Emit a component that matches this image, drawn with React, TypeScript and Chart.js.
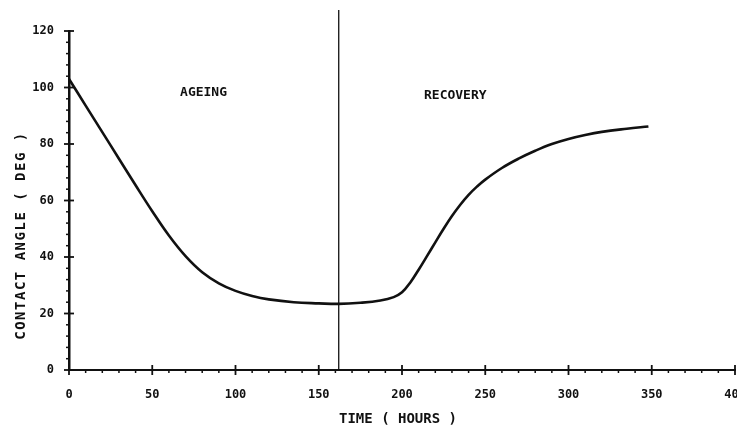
import React, { useEffect, useRef } from "react";
import { Chart, registerables } from "chart.js";

Chart.register(...registerables);

const hours = [0, 10, 20, 30, 40, 50, 60, 70, 80, 90, 100, 110, 120, 135, 150, 162, 175, 187, 195, 200, 205, 210, 215, 220, 225, 230, 235, 240, 245, 250, 260, 270, 280, 290, 300, 310, 320, 335, 348];
const angle = [103, 93.6, 84.2, 74.8, 65.4, 56.2, 47.6, 40.3, 34.6, 30.7, 28, 26.2, 25, 24, 23.6, 23.4, 23.8, 24.6, 25.8, 27.5, 31, 35.5, 40.3, 45.2, 50, 54.5, 58.5, 62, 64.9, 67.4, 71.5, 74.8, 77.6, 80, 81.8, 83.2, 84.3, 85.4, 86.2];
const xTickLabels = [0, 50, 100, 150, 200, 250, 300, 350, 400];
const yTickLabels = [0, 20, 40, 60, 80, 100, 120];
const dividerHour = 162;
const phaseLabels = ["AGEING", "RECOVERY"];
const phaseX = [80.8, 232];
const phaseY = [98.2, 97.3];
const xTitle = "TIME ( HOURS )";
const yTitle = "CONTACT ANGLE ( DEG )";

const FONT = "'DejaVu Sans Mono', monospace";
const INK = "#111";

const decorPlugin = {
  id: "decor",
  afterDraw(chart: any) {
    const { ctx, chartArea } = chart;
    const xs = chart.scales.x;
    const ys = chart.scales.y;
    const x0 = xs.getPixelForValue(0);
    const y0 = ys.getPixelForValue(0);
    ctx.save();
    ctx.strokeStyle = INK;
    // x ticks
    for (let v = 0; v <= 400; v += 10) {
      const px = xs.getPixelForValue(v);
      const major = v % 50 === 0;
      ctx.lineWidth = major ? 1.8 : 1.5;
      ctx.beginPath();
      ctx.moveTo(px, major ? y0 - 5 : y0);
      ctx.lineTo(px, major ? y0 + 5 : y0 + 3);
      ctx.stroke();
    }
    // y ticks
    for (let v = 0; v <= 120; v += 4) {
      const py = ys.getPixelForValue(v);
      const major = v % 20 === 0;
      ctx.lineWidth = major ? 1.8 : 1.5;
      ctx.beginPath();
      ctx.moveTo(major ? x0 - 5 : x0 - 3, py);
      ctx.lineTo(major ? x0 + 5 : x0 + 1, py);
      ctx.stroke();
    }
    // divider line
    const dx = xs.getPixelForValue(dividerHour);
    ctx.lineWidth = 1.3;
    ctx.beginPath();
    ctx.moveTo(dx, chartArea.top - 21);
    ctx.lineTo(dx, y0);
    ctx.stroke();
    // phase labels
    ctx.fillStyle = INK;
    ctx.font = `bold 13px ${FONT}`;
    ctx.textAlign = "center";
    ctx.textBaseline = "middle";
    phaseLabels.forEach((t, i) => {
      ctx.fillText(t, xs.getPixelForValue(phaseX[i]), ys.getPixelForValue(phaseY[i]));
    });
    // axis titles
    ctx.font = `bold 14px ${FONT}`;
    ctx.fillText(xTitle, 398, 419);
    ctx.save();
    ctx.translate(21, (chartArea.top + chartArea.bottom) / 2 + 35);
    ctx.rotate(-Math.PI / 2);
    (ctx as any).letterSpacing = "1.5px";
    ctx.fillText(yTitle, 0, 0);
    ctx.restore();
    ctx.restore();
  },
};

export default function App() {
  const ref = useRef<HTMLCanvasElement>(null);
  useEffect(() => {
    const canvas = ref.current!;
    const chart = new Chart(canvas, {
      type: "line",
      data: {
        datasets: [
          {
            data: hours.map((h, i) => ({ x: h, y: angle[i] })),
            borderColor: INK,
            borderWidth: 2.6,
            pointRadius: 0,
            tension: 0.4,
            fill: false,
          },
        ],
      },
      options: {
        animation: false,
        responsive: false,
        events: [],
        layout: { padding: { top: 31, right: 2, left: 0, bottom: 0 } },
        plugins: { legend: { display: false }, tooltip: { enabled: false } },
        scales: {
          x: {
            type: "linear",
            min: 0,
            max: 400,
            grid: { display: false },
            border: { display: true, color: INK, width: 2 },
            ticks: {
              stepSize: 50,
              autoSkip: false,
              maxRotation: 0,
              padding: 10,
              color: INK,
              font: { family: FONT, size: 12, weight: "bold" },
              callback: (v: any) => (xTickLabels.includes(v) ? String(v) : ""),
            },
            afterFit: (s: any) => {
              s.height = 58;
              s.paddingLeft = 0;
              s.paddingRight = 0;
            },
          },
          y: {
            type: "linear",
            min: 0,
            max: 120,
            grid: { display: false },
            border: { display: true, color: INK, width: 2.5 },
            ticks: {
              stepSize: 20,
              padding: 7,
              color: INK,
              font: { family: FONT, size: 12, weight: "bold" },
              callback: (v: any) => (yTickLabels.includes(v) ? String(v) : ""),
            },
            afterFit: (s: any) => {
              s.width = 69;
              s.paddingTop = 0;
              s.paddingBottom = 0;
            },
          },
        },
      },
      plugins: [decorPlugin],
    } as any);
    return () => chart.destroy();
  }, []);
  return (
    <div style={{ position: "absolute", left: 0, top: 0, width: 737, height: 428, background: "#fff" }}>
      <canvas ref={ref} width={737} height={428} style={{ display: "block" }} />
    </div>
  );
}
